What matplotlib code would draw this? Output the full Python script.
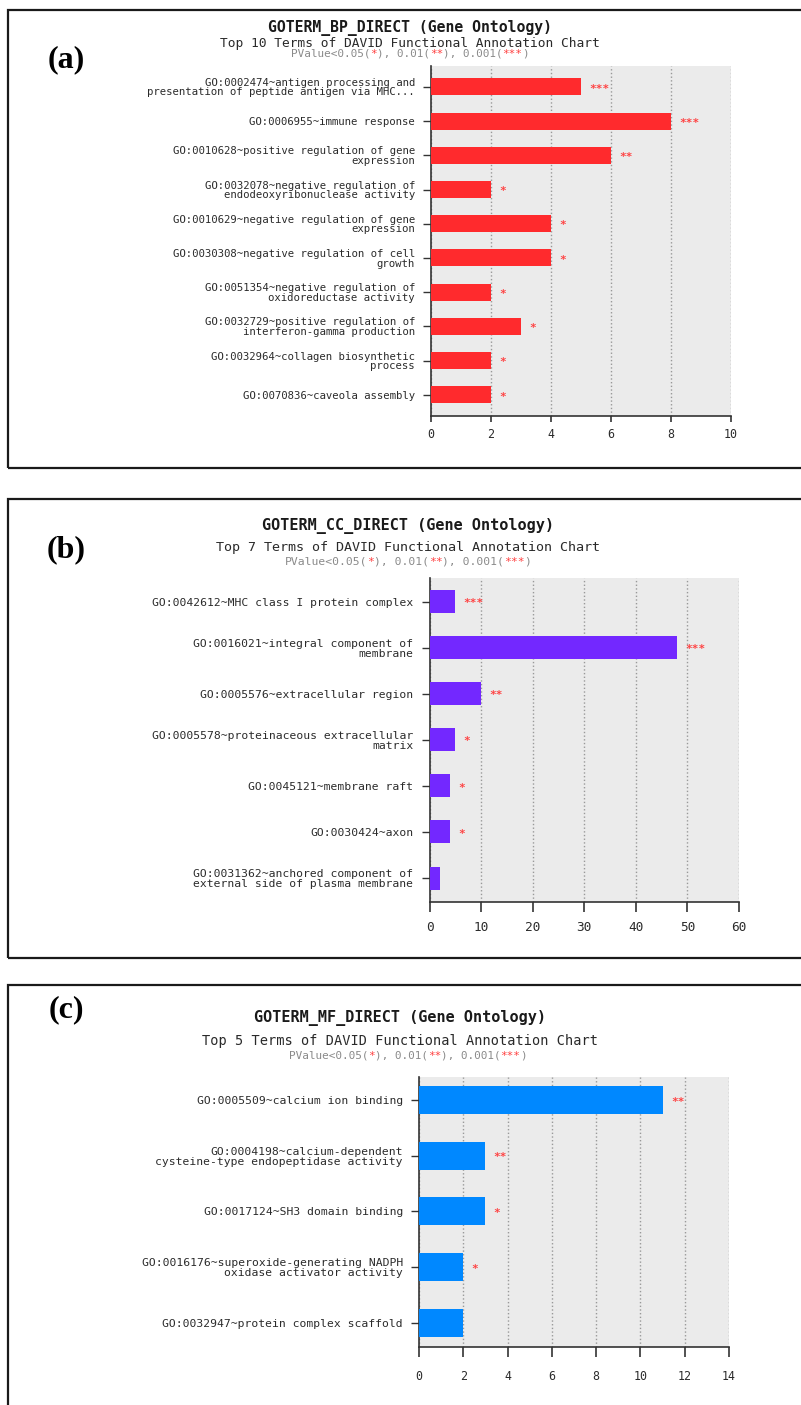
import numpy as np
import matplotlib
matplotlib.use('Agg')
import matplotlib.pyplot as plt
from matplotlib.patches import Rectangle

# === GO term data (DAVID functional annotation, top terms per category) ===
bp_terms = [
    'GO:0002474~antigen processing and\npresentation of peptide antigen via MHC...',
    'GO:0006955~immune response',
    'GO:0010628~positive regulation of gene\nexpression',
    'GO:0032078~negative regulation of\nendodeoxyribonuclease activity',
    'GO:0010629~negative regulation of gene\nexpression',
    'GO:0030308~negative regulation of cell\ngrowth',
    'GO:0051354~negative regulation of\noxidoreductase activity',
    'GO:0032729~positive regulation of\ninterferon-gamma production',
    'GO:0032964~collagen biosynthetic\nprocess',
    'GO:0070836~caveola assembly',
]
bp_counts = [5, 8, 6, 2, 4, 4, 2, 3, 2, 2]
bp_stars = ['***', '***', '**', '*', '*', '*', '*', '*', '*', '*']

cc_terms = [
    'GO:0042612~MHC class I protein complex',
    'GO:0016021~integral component of\nmembrane',
    'GO:0005576~extracellular region',
    'GO:0005578~proteinaceous extracellular\nmatrix',
    'GO:0045121~membrane raft',
    'GO:0030424~axon',
    'GO:0031362~anchored component of\nexternal side of plasma membrane',
]
cc_counts = [5, 48, 10, 5, 4, 4, 2]
cc_stars = ['***', '***', '**', '*', '*', '*', '']

mf_terms = [
    'GO:0005509~calcium ion binding',
    'GO:0004198~calcium-dependent\ncysteine-type endopeptidase activity',
    'GO:0017124~SH3 domain binding',
    'GO:0016176~superoxide-generating NADPH\noxidase activator activity',
    'GO:0032947~protein complex scaffold',
]
mf_counts = [11, 3, 3, 2, 2]
mf_stars = ['**', '**', '*', '*', '']

# === Figure geometry (pixels) ===
W, H, DPI = 801, 1405, 100
MONO = 'DejaVu Sans Mono'
GRAY_TXT = '#8a8a8a'
STAR_RED = '#ff4040'


def fx(px):
    return px / W


def fy(py):
    return 1 - py / H


def pvalue_line(fig, cx, cy, size):
    parts = [('PValue<0.05(', GRAY_TXT), ('*', STAR_RED), ('), 0.01(', GRAY_TXT),
             ('**', STAR_RED), ('), 0.001(', GRAY_TXT), ('***', STAR_RED), (')', GRAY_TXT)]
    adv = 0.6021 * size * DPI / 72
    x = cx - sum(len(s) for s, _ in parts) * adv / 2
    for s, c in parts:
        fig.text(fx(x), fy(cy), s, color=c, fontsize=size, family=MONO,
                 ha='left', va='center')
        x += len(s) * adv


panels = [
    dict(letter='(a)', box=(8, 10, 820, 468), letter_y=60,
         title='GOTERM_BP_DIRECT (Gene Ontology)',
         subtitle='Top 10 Terms of DAVID Functional Annotation Chart',
         head_x=410, head_y=(28, 44, 54), head_size=(10.6, 9.3, 7.9),
         terms=bp_terms, counts=bp_counts, stars=bp_stars, color='#ff2a2d',
         rect=(431, 66, 731, 416), xmax=10, step=2, ylim=(9.62, -0.61),
         label_size=7.7, spacing=0.95, xt_size=8.4, xt_len=4.3, xt_pad=4.0),
    dict(letter='(b)', box=(8, 499, 820, 958), letter_y=550,
         title='GOTERM_CC_DIRECT (Gene Ontology)',
         subtitle='Top 7 Terms of DAVID Functional Annotation Chart',
         head_x=408, head_y=(526, 548, 562), head_size=(10.9, 9.6, 8.2),
         terms=cc_terms, counts=cc_counts, stars=cc_stars, color='#7328ff',
         rect=(429.5, 578, 739, 902), xmax=60, step=10, ylim=(6.52, -0.51),
         label_size=8.2, spacing=1.0, xt_size=9.2, xt_len=7.0, xt_pad=7.0),
    dict(letter='(c)', box=(8, 985, 820, 1430), letter_y=1010,
         title='GOTERM_MF_DIRECT (Gene Ontology)',
         subtitle='Top 5 Terms of DAVID Functional Annotation Chart',
         head_x=400, head_y=(1018, 1041, 1056), head_size=(10.9, 9.8, 7.9),
         terms=mf_terms, counts=mf_counts, stars=mf_stars, color='#0088ff',
         rect=(419, 1077, 729, 1347), xmax=14, step=2, ylim=(4.43, -0.41),
         label_size=8.2, spacing=1.0, xt_size=8.4, xt_len=7.0, xt_pad=9.5),
]

fig = plt.figure(figsize=(W / DPI, H / DPI), dpi=DPI)
fig.patch.set_facecolor('white')

for p in panels:
    # outer frame
    x0, y0, x1, y1 = p['box']
    fig.add_artist(Rectangle((fx(x0), fy(y1)), (x1 - x0) / W, (y1 - y0) / H,
                             transform=fig.transFigure, fill=False,
                             edgecolor='#1a1a1a', linewidth=1.6))
    fig.text(fx(66), fy(p['letter_y']), p['letter'], fontsize=23,
             fontweight='bold', family='Liberation Serif', ha='center', va='center')

    # headings
    fig.text(fx(p['head_x']), fy(p['head_y'][0]), p['title'], fontsize=p['head_size'][0],
             fontweight='bold', family=MONO, color='#1a1a1a', ha='center', va='center')
    fig.text(fx(p['head_x']), fy(p['head_y'][1]), p['subtitle'], fontsize=p['head_size'][1],
             family=MONO, color='#2a2a2a', ha='center', va='center')
    pvalue_line(fig, p['head_x'] + (8 if p['letter'] == '(c)' else 0),
                p['head_y'][2], p['head_size'][2])

    # bar chart
    ax_x0, ax_y0, ax_x1, ax_y1 = p['rect']
    ax = fig.add_axes([fx(ax_x0), fy(ax_y1), (ax_x1 - ax_x0) / W, (ax_y1 - ax_y0) / H])
    ypos = np.arange(len(p['counts']))
    ax.barh(ypos, p['counts'], height=0.5, color=p['color'], zorder=3)
    for yi, (v, s) in enumerate(zip(p['counts'], p['stars'])):
        if s:
            ax.annotate(s, xy=(v, yi), xytext=(6.0, -3.4), textcoords='offset points',
                        ha='left', va='baseline', fontsize=8, fontweight='bold',
                        color=STAR_RED, family=MONO, zorder=4)

    ax.set_facecolor('#ebebeb')
    ax.set_xlim(0, p['xmax'])
    ax.set_ylim(*p['ylim'])
    ax.set_xticks(np.arange(0, p['xmax'] + 1, p['step']))
    ax.set_yticks(ypos)
    ax.set_yticklabels(p['terms'], fontsize=p['label_size'], family=MONO,
                       color='#2b2b2b', linespacing=p['spacing'])
    for lbl in ax.get_xticklabels():
        lbl.set_family(MONO)
    for side in ('top', 'right'):
        ax.spines[side].set_visible(False)
    for side in ('left', 'bottom'):
        ax.spines[side].set_color('#333333')
        ax.spines[side].set_linewidth(1.2)
    ax.tick_params(axis='y', length=5.8, width=1.0, color='#333333', pad=5.8)
    ax.tick_params(axis='x', length=p['xt_len'], width=1.2, color='#333333',
                   pad=p['xt_pad'], labelsize=p['xt_size'], labelcolor='#2b2b2b')
    ax.grid(axis='x', linestyle=':', color='#999999', linewidth=1.0, zorder=0)
    ax.set_axisbelow(True)

fig.savefig('out.png', dpi=DPI, facecolor='white')
